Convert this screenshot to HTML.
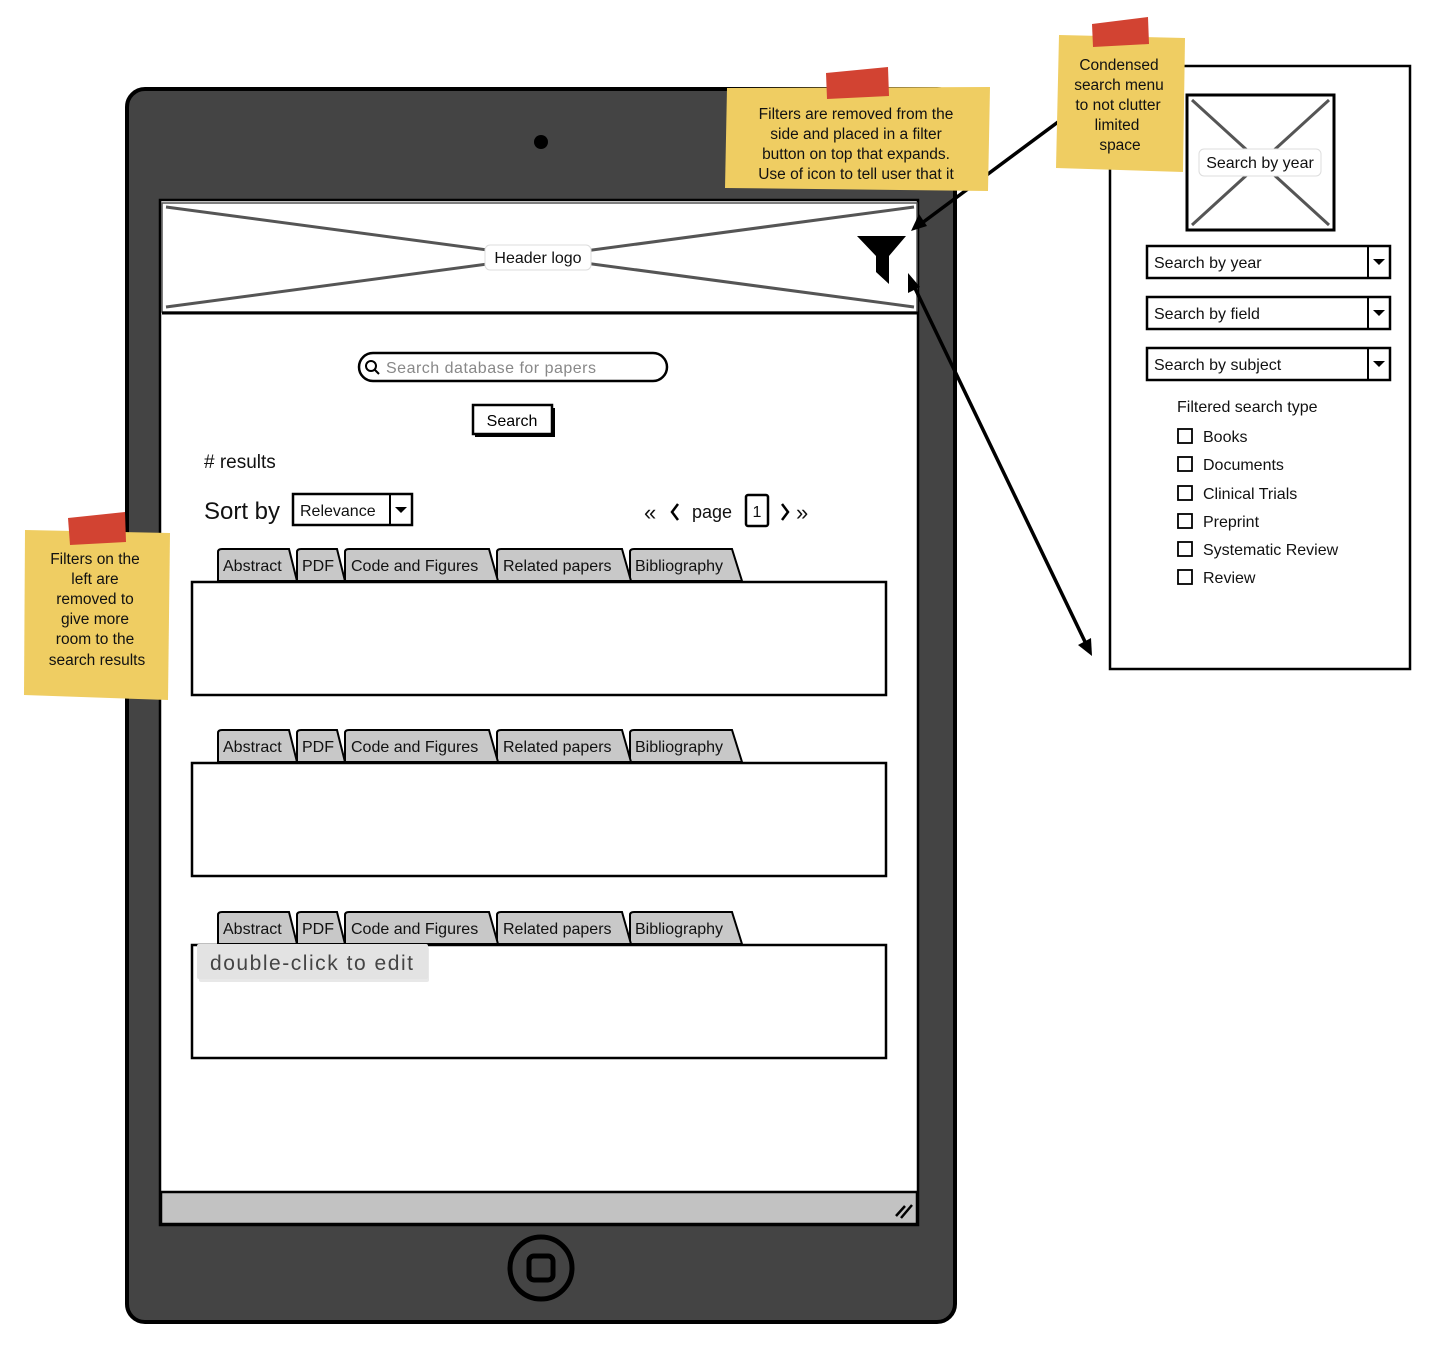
<!DOCTYPE html>
<html><head><meta charset="utf-8"><style>
html,body{margin:0;padding:0;background:#fff;}
svg{display:block;font-family:"Liberation Sans","DejaVu Sans",sans-serif;}
</style></head><body>
<svg width="1448" height="1348" viewBox="0 0 1448 1348" xmlns="http://www.w3.org/2000/svg">
<defs>
<g id="tabs">
  <path d="M630 32 L630 3 Q630 0 634 0 L732 0 L742 32 Z" fill="#c8c8c8" stroke="#000" stroke-width="2"/>
  <path d="M497 32 L497 3 Q497 0 501 0 L622 0 L631 32 Z" fill="#c8c8c8" stroke="#000" stroke-width="2"/>
  <path d="M345 32 L345 3 Q345 0 349 0 L489 0 L498 32 Z" fill="#c8c8c8" stroke="#000" stroke-width="2"/>
  <path d="M297 32 L297 3 Q297 0 301 0 L337 0 L345 32 Z" fill="#c8c8c8" stroke="#000" stroke-width="2"/>
  <path d="M218 32 L218 3 Q218 0 222 0 L289 0 L297 32 Z" fill="#c8c8c8" stroke="#000" stroke-width="2"/>
  <g font-size="16" fill="#111">
    <text x="223" y="22">Abstract</text>
    <text x="302" y="22">PDF</text>
    <text x="351" y="22">Code and Figures</text>
    <text x="503" y="22">Related papers</text>
    <text x="635" y="22">Bibliography</text>
  </g>
  <rect x="192" y="33" width="694" height="113" fill="#fff" stroke="#000" stroke-width="2.5"/>
</g>
<g id="ck"><rect x="0" y="0" width="14" height="14" fill="#fff" stroke="#000" stroke-width="1.8"/></g>
<g id="dd">
  <rect x="0" y="0" width="243" height="32" fill="#fff" stroke="#000" stroke-width="2.5"/>
  <line x1="221" y1="0" x2="221" y2="32" stroke="#000" stroke-width="2"/>
  <path d="M226 13 L238 13 L232 19 Z" fill="#000"/>
</g>
</defs>

<rect x="127" y="89" width="828" height="1233" rx="18" fill="#444" stroke="#000" stroke-width="4"/>
<circle cx="541" cy="142" r="7" fill="#000"/>
<rect x="160" y="200" width="758" height="1025" fill="#fff" stroke="#000" stroke-width="2.5"/>
<rect x="162" y="203" width="755" height="109" fill="#fff" stroke="#555" stroke-width="1.5"/>
<line x1="162" y1="313" x2="918" y2="313" stroke="#000" stroke-width="3"/>
<line x1="166" y1="207" x2="914" y2="307" stroke="#555" stroke-width="3"/>
<line x1="166" y1="307" x2="914" y2="207" stroke="#555" stroke-width="3"/>
<rect x="485" y="245" width="106" height="25" rx="5" fill="#fff" stroke="#ddd" stroke-width="1"/>
<text x="538" y="263" font-size="16" text-anchor="middle" fill="#111">Header logo</text>
<path d="M857 236 L906 236 L889 256 L889 284 L876 272 L876 256 Z" fill="#000"/>

<rect x="359" y="353" width="308" height="28" rx="14" fill="#fff" stroke="#000" stroke-width="2.5"/>
<circle cx="371" cy="366" r="5" fill="none" stroke="#000" stroke-width="2"/>
<line x1="375" y1="370" x2="379" y2="374" stroke="#000" stroke-width="2"/>
<text x="386" y="373" font-size="16" fill="#888" textLength="210">Search database for papers</text>
<rect x="475" y="408" width="80" height="29" fill="#000"/>
<rect x="473" y="405" width="79" height="29" fill="#fff" stroke="#000" stroke-width="2.5"/>
<text x="512" y="426" font-size="16" text-anchor="middle" fill="#000">Search</text>
<text x="204" y="468" font-size="19" fill="#111"># results</text>
<text x="204" y="519" font-size="24" fill="#111">Sort by</text>
<rect x="293" y="494" width="119" height="31" fill="#fff" stroke="#000" stroke-width="2.5"/>
<line x1="390" y1="494" x2="390" y2="525" stroke="#000" stroke-width="2"/>
<path d="M395 507 L407 507 L401 513 Z" fill="#000"/>
<text x="300" y="516" font-size="16" fill="#111">Relevance</text>
<text x="644" y="520" font-size="22" fill="#111">«</text>
<path d="M678 504 L672 512 L678 520" fill="none" stroke="#000" stroke-width="2.5"/>
<text x="692" y="518" font-size="18" fill="#111">page</text>
<rect x="746" y="495" width="22" height="31" rx="2" fill="#fff" stroke="#000" stroke-width="2.5"/>
<text x="757" y="517" font-size="16" text-anchor="middle" fill="#111">1</text>
<path d="M782 504 L788 512 L782 520" fill="none" stroke="#000" stroke-width="2.5"/>
<text x="796" y="520" font-size="22" fill="#111">»</text>

<use href="#tabs" transform="translate(0,549)"/>
<use href="#tabs" transform="translate(0,730)"/>
<use href="#tabs" transform="translate(0,912)"/>

<rect x="199" y="947" width="230" height="35" rx="2" fill="#d8d8d8" opacity="0.6"/>
<rect x="197" y="944" width="231" height="35" rx="2" fill="#e3e3e3"/>
<text x="210" y="970" font-size="21" fill="#444" textLength="203">double-click to edit</text>

<rect x="161" y="1192" width="756" height="32" fill="#c2c2c2" stroke="#000" stroke-width="2.5"/>
<path d="M896 1216 L905 1206 M901 1218 L912 1205" stroke="#000" stroke-width="2.5"/>
<circle cx="541" cy="1268" r="31" fill="none" stroke="#000" stroke-width="5"/>
<rect x="529" y="1256" width="24" height="24" rx="5" fill="none" stroke="#000" stroke-width="5"/>

<rect x="1110" y="66" width="300" height="603" fill="#fff" stroke="#000" stroke-width="2.5"/>
<rect x="1187" y="95" width="147" height="135" fill="#fff" stroke="#000" stroke-width="3"/>
<line x1="1192" y1="100" x2="1329" y2="225" stroke="#555" stroke-width="3"/>
<line x1="1192" y1="225" x2="1329" y2="100" stroke="#555" stroke-width="3"/>
<rect x="1199" y="149" width="122" height="27" rx="5" fill="#fff" stroke="#ddd"/>
<text x="1260" y="168" font-size="16" text-anchor="middle" fill="#111">Search by year</text>
<use href="#dd" transform="translate(1147,246)"/>
<use href="#dd" transform="translate(1147,297)"/>
<use href="#dd" transform="translate(1147,348)"/>
<g font-size="16" fill="#111">
<text x="1154" y="268">Search by year</text>
<text x="1154" y="319">Search by field</text>
<text x="1154" y="370">Search by subject</text>
<text x="1177" y="412">Filtered search type</text>
<text x="1203" y="442">Books</text>
<text x="1203" y="470">Documents</text>
<text x="1203" y="499">Clinical Trials</text>
<text x="1203" y="527">Preprint</text>
<text x="1203" y="555">Systematic Review</text>
<text x="1203" y="583">Review</text>
</g>
<use href="#ck" transform="translate(1178,429)"/>
<use href="#ck" transform="translate(1178,457)"/>
<use href="#ck" transform="translate(1178,486)"/>
<use href="#ck" transform="translate(1178,514)"/>
<use href="#ck" transform="translate(1178,542)"/>
<use href="#ck" transform="translate(1178,570)"/>

<line x1="1058" y1="122" x2="918" y2="226" stroke="#000" stroke-width="3.5"/>
<path d="M911 231 L919 214 L927 226 Z" fill="#000"/>
<line x1="912" y1="282" x2="1088" y2="648" stroke="#000" stroke-width="3.5"/>
<path d="M908 273 L908 293 L920 287 Z" fill="#000"/>
<path d="M1092 656 L1078 645 L1091 638 Z" fill="#000"/>

<g font-size="15.5" fill="#111" text-anchor="middle">
<polygon points="727,88 990,87 988,191 725,188" fill="#efcd62"/>
<polygon points="826,73 888,67 889,96 827,99" fill="#d24332"/>
<text x="856" y="119">Filters are removed from the</text>
<text x="856" y="139">side and placed in a filter</text>
<text x="856" y="159">button on top that expands.</text>
<text x="856" y="179">Use of icon to tell user that it</text>

<polygon points="1059,35 1185,38 1183,172 1056,168" fill="#efcd62"/>
<polygon points="1092,24 1148,17 1149,44 1093,47" fill="#d24332"/>
<text x="1119" y="70">Condensed</text>
<text x="1119" y="90">search menu</text>
<text x="1118" y="110">to not clutter</text>
<text x="1117" y="130">limited</text>
<text x="1120" y="150">space</text>

<polygon points="25,530 170,533 168,700 24,695" fill="#efcd62"/>
<polygon points="68,518 125,512 126,542 70,545" fill="#d24332"/>
<text x="95" y="564">Filters on the</text>
<text x="95" y="584">left are</text>
<text x="95" y="604">removed to</text>
<text x="95" y="624">give more</text>
<text x="95" y="644">room to the</text>
<text x="97" y="665">search results</text>
</g>
</svg>
</body></html>
